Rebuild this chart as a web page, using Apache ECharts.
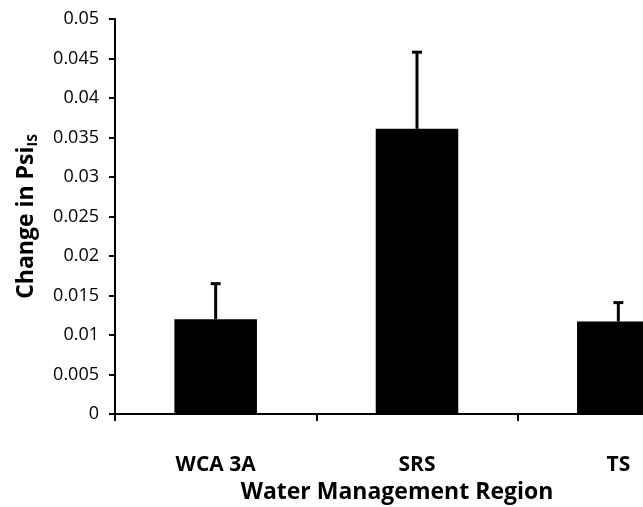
<!DOCTYPE html>
<html>
<head>
<meta charset="utf-8">
<script src="https://cdn.jsdelivr.net/npm/echarts@6/dist/echarts.min.js"></script>
<style>html,body{margin:0;padding:0;background:#fff;overflow:hidden;width:643px;height:507px;}#c{width:720px;height:507px;}</style>
</head>
<body>
<div id="c"></div>
<script>
var categories = ['WCA 3A', 'SRS', 'TS'];
var values = [0.0120, 0.0361, 0.0117];
var errors = [0.0045, 0.0097, 0.0024];
var yTicks = { min: 0, max: 0.05, interval: 0.005 };

var chart = echarts.init(document.getElementById('c'));
var FONT = '"Open Sans", "Liberation Sans", sans-serif';
chart.setOption({
  animation: false,
  grid: { left: 115, top: 19, bottom: 93, right: 1, containLabel: false, outerBoundsMode: 'none' },
  xAxis: {
    type: 'category',
    data: categories,
    axisLine: { lineStyle: { color: '#000', width: 2 } },
    axisTick: { show: true, length: 7, lineStyle: { color: '#000', width: 2 }, alignWithLabel: false },
    axisLabel: { color: '#000', fontFamily: FONT, fontWeight: 'bold', fontSize: 21, margin: 41 },
    name: 'Water Management Region',
    nameLocation: 'middle',
    nameGap: 67,
    nameTextStyle: { color: '#000', fontFamily: FONT, fontWeight: 'bold', fontSize: 23, padding: [0, 40, 0, 0] }
  },
  yAxis: {
    type: 'value',
    min: yTicks.min, max: yTicks.max, interval: yTicks.interval,
    splitLine: { show: false },
    axisLine: { show: true, lineStyle: { color: '#000', width: 2 } },
    axisTick: { show: true, length: 6, lineStyle: { color: '#000', width: 2 } },
    axisLabel: { color: '#000', fontFamily: FONT, fontSize: 18, margin: 16 },
    name: '{a|Change in Psi}{b|IS}',
    nameLocation: 'middle',
    nameGap: 75,
    nameRotate: 90,
    nameTextStyle: {
      rich: {
        a: { color: '#000', fontFamily: FONT, fontWeight: 'bold', fontSize: 23 },
        b: { color: '#000', fontFamily: FONT, fontWeight: 'bold', fontSize: 14, padding: [14, 0, 0, 0] }
      }
    }
  },
  series: [
    {
      type: 'bar',
      data: values,
      barWidth: '41%',
      itemStyle: { color: '#000' }
    },
    {
      type: 'custom',
      data: values.map(function (v, i) { return [i, v, v + errors[i]]; }),
      renderItem: function (params, api) {
        var p0 = api.coord([api.value(0), api.value(1)]);
        var p1 = api.coord([api.value(0), api.value(2)]);
        var hw = 5;
        return {
          type: 'group',
          children: [
            { type: 'line', shape: { x1: p0[0], y1: p0[1], x2: p1[0], y2: p1[1] }, style: { stroke: '#000', lineWidth: 3 } },
            { type: 'line', shape: { x1: p1[0] - hw, y1: p1[1], x2: p1[0] + hw, y2: p1[1] }, style: { stroke: '#000', lineWidth: 3 } }
          ]
        };
      },
      z: 5
    }
  ]
});
</script>
</body>
</html>
